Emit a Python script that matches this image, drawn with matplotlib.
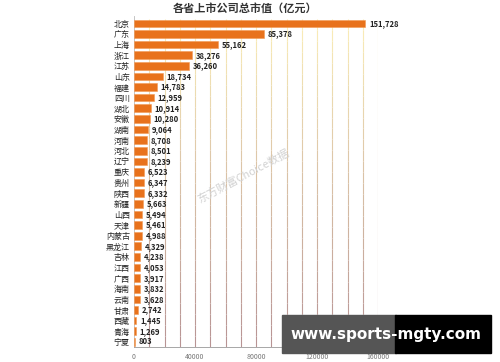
import numpy as np
import matplotlib.pyplot as plt
from matplotlib.collections import LineCollection
from matplotlib.patches import Rectangle

plt.rcParams['font.family'] = ['Noto Sans CJK SC', 'DejaVu Sans']

provinces = ["北京", "广东", "上海", "浙江", "江苏", "山东", "福建", "四川", "湖北", "安徽",
             "湖南", "河南", "河北", "辽宁", "重庆", "贵州", "陕西", "新疆", "山西", "天津",
             "内蒙古", "黑龙江", "吉林", "江西", "广西", "海南", "云南", "甘肃", "西藏", "青海", "宁夏"]
values = [151728, 85378, 55162, 38276, 36260, 18734, 14783, 12959, 10914, 10280,
          9064, 8708, 8501, 8239, 6523, 6347, 6332, 5663, 5494, 5461,
          4988, 4329, 4238, 4053, 3917, 3832, 3628, 2742, 1445, 1269, 803]
xticks = [0, 40000, 80000, 120000, 160000]

fig = plt.figure(figsize=(5, 3.62), dpi=100)
ax = fig.add_axes([0.268, 0.041, 0.488, 0.915])

y = np.arange(len(provinces))
ax.barh(y, values, height=0.72, color="#e8721c", edgecolor="#f29a55", linewidth=0.4, zorder=3)

# gradient vertical grid: pale yellow at top, brownish at bottom
ax.set_ylim(len(provinces) - 0.5, -0.7)
segs, cols = [], []
top_c = np.array([0.98, 0.93, 0.72])
bot_c = np.array([0.72, 0.58, 0.58])
n = 30
ys = np.linspace(-0.4, len(provinces) - 0.5, n + 1)
for gx in range(10000, 160001, 10000):
    for i in range(n):
        segs.append([(gx, ys[i]), (gx, ys[i + 1])])
        t = i / (n - 1)
        cols.append(top_c * (1 - t) + bot_c * t)
ax.add_collection(LineCollection(segs, colors=cols, linewidths=0.8, zorder=1))

for yi, v in zip(y, values):
    ax.text(v + 2500, yi, f"{v:,}", va="center", ha="left", fontsize=5.5,
            fontweight="bold", color="#222222", zorder=4)

ax.set_xlim(0, 160000)
ax.set_xticks(xticks)
ax.set_xticklabels([str(t) for t in xticks], fontsize=5, color="#777777")
ax.set_yticks(y)
ax.set_yticklabels(provinces, fontsize=5.8, color="#222222")
ax.tick_params(axis="y", length=0, pad=3)
ax.tick_params(axis="x", length=0, pad=4)
for s in ["top", "right"]:
    ax.spines[s].set_visible(False)
ax.spines["left"].set_color("#bbbbbb")
ax.spines["left"].set_linewidth(0.6)
ax.spines["bottom"].set_color("#999999")
ax.spines["bottom"].set_linewidth(0.6)

fig.text(0.49, 0.978, "各省上市公司总市值（亿元）", ha="center", va="center",
         fontsize=8, fontweight="bold", color="#333333")

# watermark
ax.text(71500, 14.4, "东方财富Choice数据", rotation=28, fontsize=8, color="#d2d2d2",
        ha="center", va="center", zorder=2)

# site banner
fig.patches.append(Rectangle((0.564, 0.025), 0.227, 0.104, transform=fig.transFigure,
                             color="#555555", zorder=10))
fig.patches.append(Rectangle((0.79, 0.025), 0.192, 0.104, transform=fig.transFigure,
                             color="#000000", zorder=10))
fig.text(0.772, 0.077, "www.sports-mgty.com", ha="center", va="center", fontsize=11,
         fontweight="bold", color="white", family="DejaVu Sans", zorder=11)

fig.savefig("out.png", dpi=100, facecolor="white")
